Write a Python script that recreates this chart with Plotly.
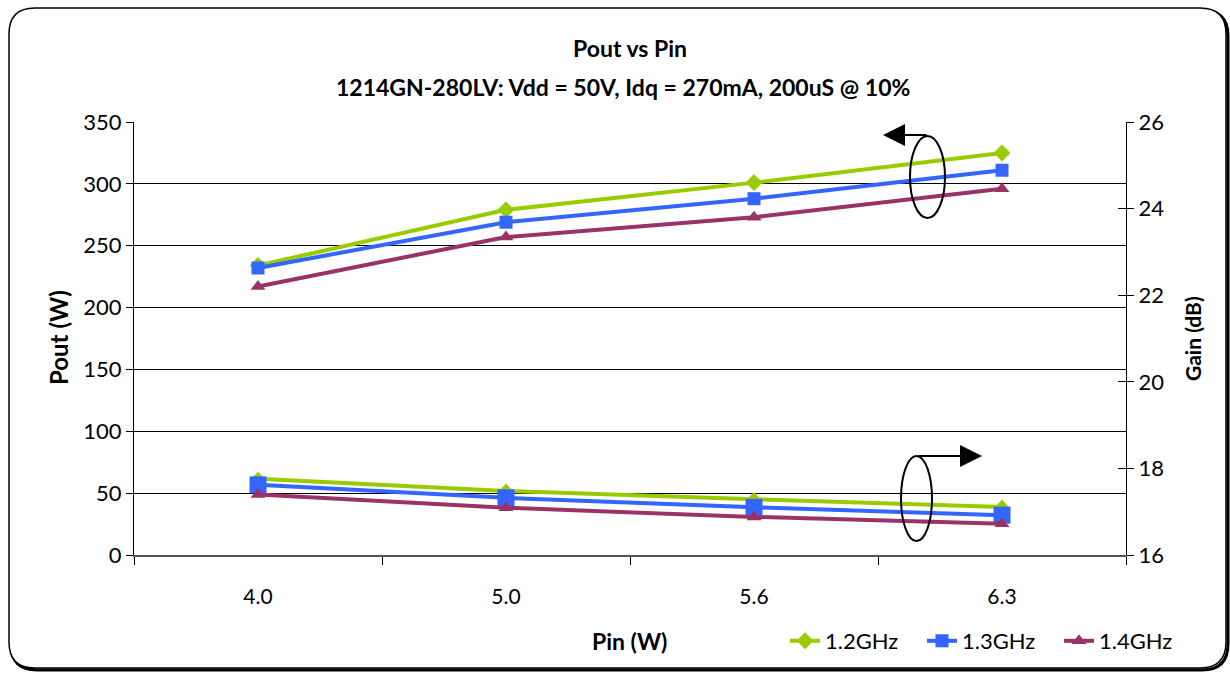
import plotly.graph_objects as go

# ---- data ----
pin_labels = ["4.0", "5.0", "5.6", "6.3"]
series_names = ["1.2GHz", "1.3GHz", "1.4GHz"]
pout_12 = [234, 279, 301, 325]
pout_13 = [232, 269, 288, 311]
pout_14 = [217, 257, 273, 296]
gain_12 = [17.76, 17.48, 17.29, 17.11]
gain_13 = [17.62, 17.32, 17.10, 16.92]
gain_14 = [17.40, 17.09, 16.88, 16.72]
colors = ["#99CC00", "#3366FF", "#993366"]
symbols = ["diamond", "square", "triangle-up"]

W, H = 1230, 674
L, R, T, B = 134, 1126, 122, 555

def px(x):
    return (x - L) / (R - L)

def py(y):
    return (B - y) / (B - T)

FONT = "Lato, 'Open Sans', sans-serif"

fig = go.Figure()
pouts = [pout_12, pout_13, pout_14]
gains = [gain_12, gain_13, gain_14]
gain_sizes = [11, 17, 13]
for i in range(3):
    fig.add_trace(go.Scatter(
        x=pin_labels, y=pouts[i], name=series_names[i], mode="lines+markers",
        line=dict(color=colors[i], width=4),
        marker=dict(symbol=symbols[i], size=13, color=colors[i]),
        yaxis="y", legendrank=i + 1,
    ))
for i in range(3):
    fig.add_trace(go.Scatter(
        x=pin_labels, y=gains[i], name=series_names[i], mode="lines+markers",
        line=dict(color=colors[i], width=4),
        marker=dict(symbol=symbols[i], size=gain_sizes[i], color=colors[i]),
        yaxis="y2", showlegend=False,
    ))
# invisible trace to carry inside ticks on right axis
fig.add_trace(go.Scatter(x=pin_labels, y=gain_12, yaxis="y3", mode="none",
                         showlegend=False, hoverinfo="skip"))

# border shape (rounded rectangle) with shadow
def rrect(x0, y0, x1, y1, r):
    pts = [
        ("M", (x0 + r, y0)), ("L", (x1 - r, y0)),
        ("Q", (x1, y0), (x1, y0 + r)), ("L", (x1, y1 - r)),
        ("Q", (x1, y1), (x1 - r, y1)), ("L", (x0 + r, y1)),
        ("Q", (x0, y1), (x0, y1 - r)), ("L", (x0, y0 + r)),
        ("Q", (x0, y0), (x0 + r, y0)),
    ]
    s = ""
    for p in pts:
        cmd = p[0]
        coords = " ".join(f"{px(a):.5f},{py(b):.5f}" for a, b in p[1:])
        s += f"{cmd} {coords} "
    return s + "Z"

shapes = [
    dict(type="path", xref="paper", yref="paper", path=rrect(11, 10, 1228, 670, 26),
         line=dict(color="black", width=3), layer="below"),
    dict(type="path", xref="paper", yref="paper", path=rrect(9, 8, 1226, 668, 26),
         line=dict(color="black", width=1.5), fillcolor="white", layer="below"),
    dict(type="circle", xref="paper", yref="paper",
         x0=px(910), x1=px(945), y0=py(218), y1=py(136),
         line=dict(color="black", width=2)),
    dict(type="circle", xref="paper", yref="paper",
         x0=px(901), x1=px(932), y0=py(541), y1=py(456),
         line=dict(color="black", width=2)),
]

def txt(text, x, y, size, angle=0):
    return dict(text=text, x=px(x), y=py(y), xref="paper", yref="paper",
                xanchor="center", yanchor="middle", showarrow=False, textangle=angle,
                font=dict(size=size, family=FONT, color="black"))

annotations = [
    txt("<b>Pout vs Pin</b>", 630, 48, 23),
    txt("<b>1214GN-280LV: Vdd = 50V, Idq = 270mA, 200uS @ 10%</b>", 623, 87, 23),
    txt("<b>Pout (W)</b>", 58, 338, 24, -90),
    txt("<b>Gain (dB)</b>", 1192, 339, 21, -90),
    txt("<b>Pin (W)</b>", 629, 641, 23),
    dict(text="", x=px(883), y=py(135), xref="paper", yref="paper", showarrow=True,
         ax=45, ay=0, arrowhead=2, arrowsize=2.2, arrowwidth=2, arrowcolor="black"),
    dict(text="", x=px(982), y=py(456), xref="paper", yref="paper", showarrow=True,
         ax=-65, ay=0, arrowhead=2, arrowsize=2.2, arrowwidth=2, arrowcolor="black"),
]

fig.update_layout(
    width=W, height=H,
    margin=dict(l=L, r=W - R, t=T, b=H - B),
    paper_bgcolor="rgba(0,0,0,0)", plot_bgcolor="white",
    font=dict(family=FONT, size=21, color="black"),
    showlegend=True,
    legend=dict(orientation="h", x=px(785), xanchor="left", y=py(641), yanchor="middle",
                font=dict(size=22, family=FONT), bgcolor="rgba(0,0,0,0)",
                itemwidth=30, tracegroupgap=0, entrywidth=92, entrywidthmode="pixels"),
    xaxis=dict(type="category", range=[-0.5, 3.5], showline=True, linecolor="#555555",
               linewidth=2, ticks="outside", tickson="boundaries", ticklen=8,
               tickcolor="black", showgrid=False, ticklabelstandoff=22,
               tickfont=dict(size=21)),
    yaxis=dict(range=[0, 350], dtick=50, showline=True, linecolor="black", linewidth=1,
               ticks="outside", ticklen=7, tickcolor="black", showgrid=True,
               gridcolor="black", gridwidth=1, zeroline=False, tickfont=dict(size=22)),
    yaxis2=dict(range=[16, 26], dtick=2, overlaying="y", side="right", showline=True,
                linecolor="black", linewidth=1, ticks="outside", ticklen=7,
                tickcolor="black", showgrid=False, zeroline=False, tickfont=dict(size=22)),
    yaxis3=dict(range=[16, 26], dtick=2, overlaying="y", side="right", showline=False,
                ticks="inside", ticklen=8, tickcolor="black", showgrid=False,
                zeroline=False, showticklabels=False),
    shapes=shapes,
    annotations=annotations,
)

fig.write_html("out.html", config={"displayModeBar": False},
               post_script="document.body.style.margin='0';")
